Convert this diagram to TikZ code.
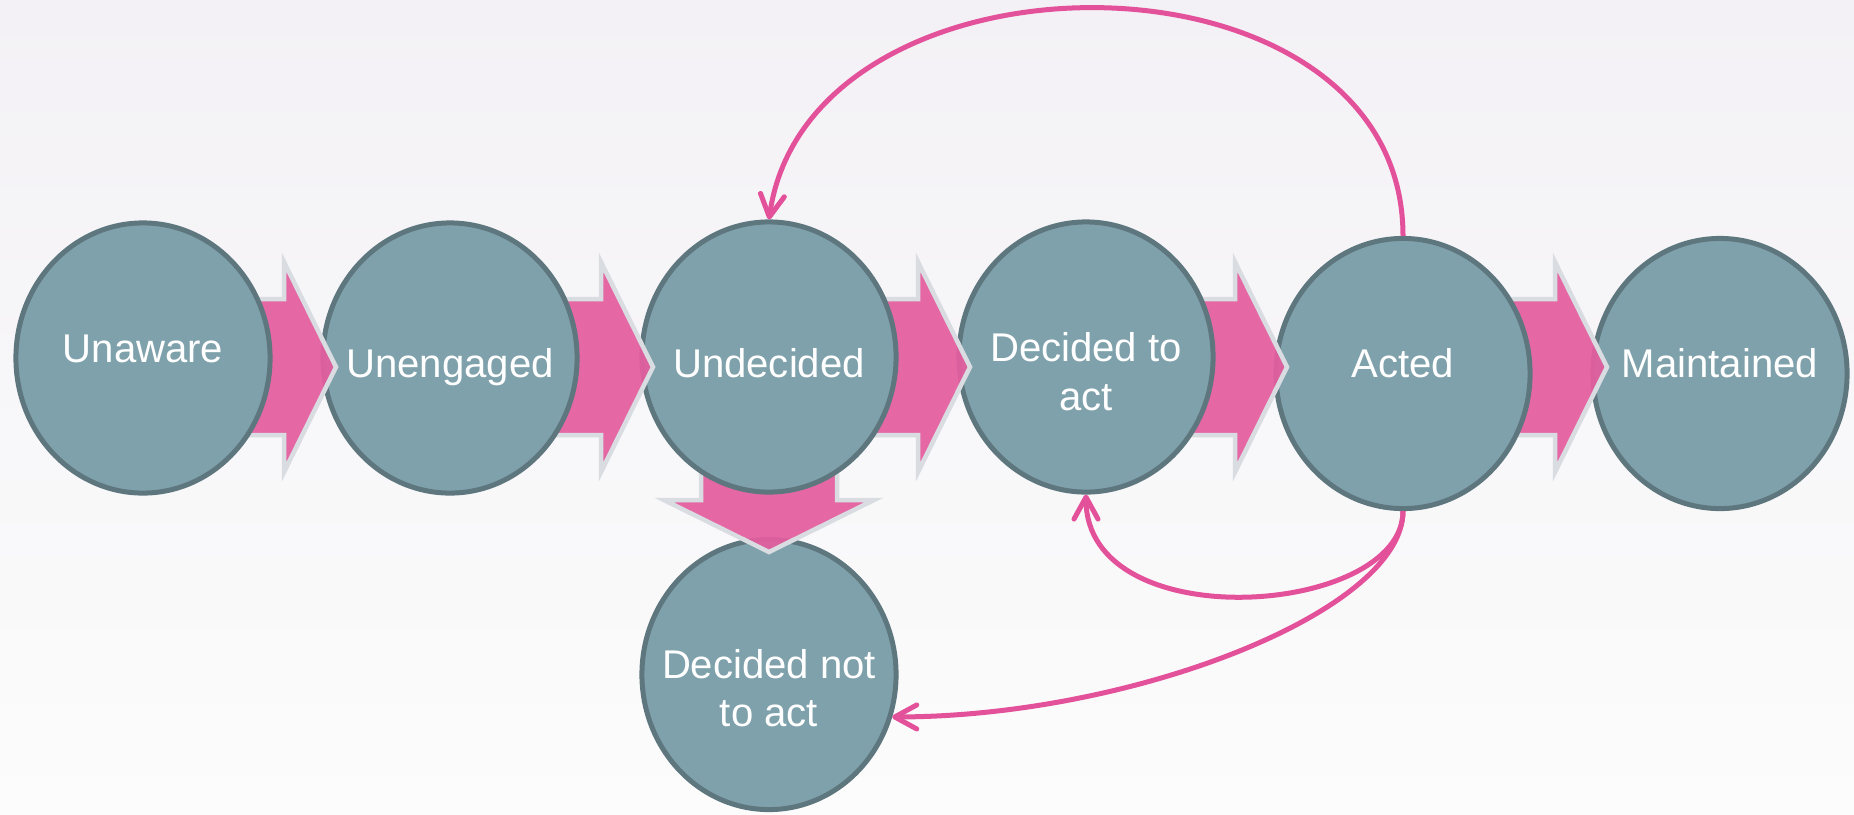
\documentclass[tikz,border=0pt]{standalone}
\usepackage{fontspec}
\setmainfont{Liberation Sans}
\usepackage{tikz}
\usetikzlibrary{shapes.geometric,arrows.meta}

\definecolor{bgtop}{HTML}{F3F1F5}
\definecolor{bgbot}{HTML}{FCFCFC}
\definecolor{stagefill}{HTML}{7FA1AB}
\definecolor{stageline}{HTML}{5E777F}
\definecolor{flowpink}{HTML}{E45E9F}
\definecolor{flowedge}{HTML}{D9DDE2}
\definecolor{backpink}{HTML}{E2519A}

\begin{document}
\begin{tikzpicture}[x=0.01cm, y=-0.01cm,
    stage/.style={ellipse, draw=stageline, fill=stagefill, line width=0.05cm,
        minimum width=2.54cm, minimum height=2.7cm, inner sep=0pt},
    lbl/.style={text=white, font=\fontsize{11.4}{13.7}\selectfont, align=center,
        inner sep=0pt, anchor=base},
    flowarrow/.style={fill=flowpink, fill opacity=0.93, draw=flowedge, line width=0.045cm},
    feedback/.style={draw=backpink, line width=0.05cm,
        -{Straight Barb[length=0.22cm,width=0.24cm,round]}},
    pics/blockarrow/.style={code={
        \path[flowarrow] (-200,-68) -- (-52,-68) -- (-52,-105) -- (0,0)
            -- (-52,105) -- (-52,68) -- (-200,68) -- cycle;}}]

    \useasboundingbox (0,0) rectangle (1854,814);
    \shade[top color=bgtop, bottom color=bgbot] (0,0) rectangle (1854,814);

    % drawn right to left, so each arrow lies under its left stage
    \node[stage] (maint) at (1720,373.5) {};
    \pic at (1607,367) {blockarrow};
    \node[stage] (acted) at (1403,373.5) {};
    \pic at (1287,367) {blockarrow};
    \node[stage] (dta) at (1086,357) {};
    \pic at (970,367) {blockarrow};
    \node[stage] (dnta) at (769,674.5) {};
    \pic[rotate=-90] at (769,552) {blockarrow};
    \node[stage] (undec) at (769,357) {};
    \pic at (653,367) {blockarrow};
    \node[stage] (uneng) at (450,358) {};
    \pic at (336,367) {blockarrow};
    \node[stage] (una) at (143,358) {};

    \node[lbl, yshift=-0.04cm] at (una.center) {Unaware};
    \node[lbl, yshift=-0.19cm] at (uneng.center) {Unengaged};
    \node[lbl, yshift=-0.2cm] at (undec.center) {Undecided};
    \node[lbl, yshift=-0.53cm] at (dta.center) {Decided to\\act};
    \node[lbl, yshift=-0.04cm] at (acted.center) {Acted};
    \node[lbl, yshift=-0.04cm] at (maint.center) {Maintained};
    \node[lbl, yshift=-0.52cm] at (dnta.center) {Decided not\\to act};

    \draw[feedback] (acted.north) .. controls +(0,-300) and +(40,-285) .. (undec.north);
    \draw[feedback] (acted.south) .. controls +(0,105) and +(0,145) .. (dta.south);
    \draw[feedback] (acted.south) .. controls +(0,100) and +(240,0) .. (dnta.-19);
\end{tikzpicture}
\end{document}
